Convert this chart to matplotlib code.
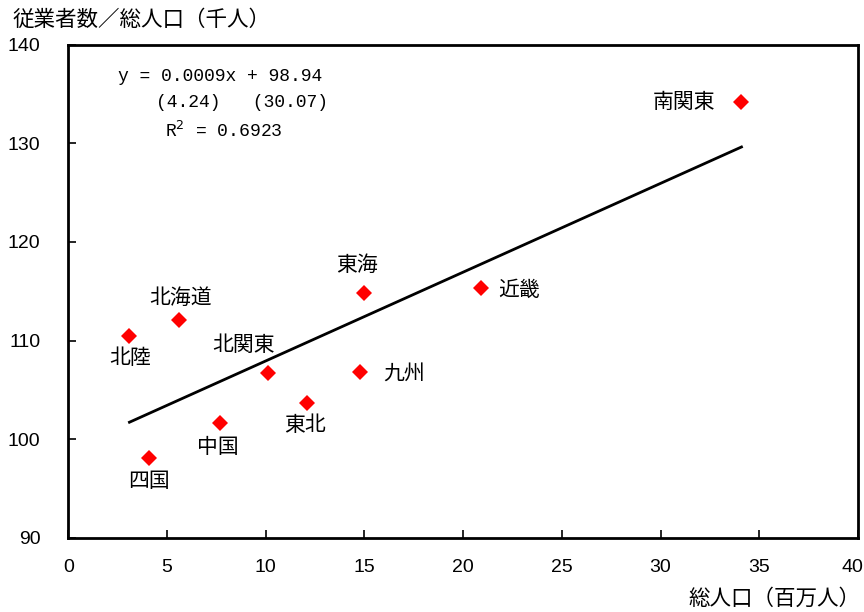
import matplotlib
matplotlib.use("Agg")
import matplotlib.pyplot as plt
import matplotlib.transforms as mtransforms
import numpy as np

# === Data ===
regions = ["南関東", "近畿", "東海", "北海道", "北陸", "北関東", "九州", "東北", "中国", "四国"]
population = [34.1, 20.9, 15.0, 5.6, 3.1, 10.1, 14.8, 12.1, 7.7, 4.1]      # 百万人
workers_ratio = [134.2, 115.3, 114.8, 112.1, 110.5, 106.7, 106.8, 103.7, 101.7, 98.1]

# regression (per thousand persons)
slope = 0.0009
intercept = 98.94

# label offsets in pixels (dx, dy)
label_offsets = [(-57, 0), (38, -1), (-7, 28), (2, 22), (1, -22),
                 (-24, 28), (44, -1), (-2, -22), (-2, -24), (0, -23)]

jp_font = ["Noto Sans CJK JP", "DejaVu Sans"]
num_font = ["Liberation Sans Narrow", "Liberation Sans", "DejaVu Sans"]
mono_font = ["Liberation Mono", "DejaVu Sans Mono"]

fig = plt.figure(figsize=(8.64, 6.12), dpi=100)
ax = fig.add_axes([0.079, 0.121, 0.914, 0.806])

# regression line over the data range
xs = np.array([min(population), max(population)])
ax.plot(xs, intercept + slope * 1000 * xs, color="black", lw=2.0, zorder=2)

ax.plot(population, workers_ratio, "D", color="#ff0000", markersize=8,
        markeredgewidth=0, zorder=3)

for name, x, y, (dx, dy) in zip(regions, population, workers_ratio, label_offsets):
    ax.annotate(name, (x, y), xytext=(dx, dy), textcoords="offset pixels",
                ha="center", va="center", fontsize=15, family=jp_font)

ax.set_xlim(0, 40)
ax.set_ylim(90, 140)
ax.set_xticks(np.arange(0, 41, 5))
ax.set_yticks(np.arange(90, 141, 10))
ax.tick_params(direction="in", length=6, width=1.2)
ax.tick_params(axis="y", pad=20)
ax.tick_params(axis="x", pad=15)
for lab in ax.get_xticklabels() + ax.get_yticklabels():
    lab.set_family(num_font)
    lab.set_fontsize(14)
for sp in ax.spines.values():
    sp.set_linewidth(2.0)

# keep the last x label inside the figure, like the original
last = ax.get_xticklabels()[-1]
last.set_horizontalalignment("right")
last.set_transform(last.get_transform() +
                   mtransforms.ScaledTranslation(5 / 100, 0, fig.dpi_scale_trans))

# equation text
ax.text(0.063, 0.935, "y = 0.0009x + 98.94", transform=ax.transAxes,
        family=mono_font, fontsize=13, va="center", ha="left")
ax.text(0.111, 0.882, "(4.24)   (30.07)", transform=ax.transAxes,
        family=mono_font, fontsize=13, va="center", ha="left")
ax.text(0.122, 0.826, "R$^2$ = 0.6923", transform=ax.transAxes,
        family=mono_font, fontsize=13, va="center", ha="left")

fig.text(0.014, 0.968, "従業者数／総人口（千人）", family=jp_font,
         fontsize=15.5, ha="left", va="center")
fig.text(0.996, 0.022, "総人口（百万人）", family=jp_font,
         fontsize=15.5, ha="right", va="center")

fig.savefig("out.png", dpi=100)
